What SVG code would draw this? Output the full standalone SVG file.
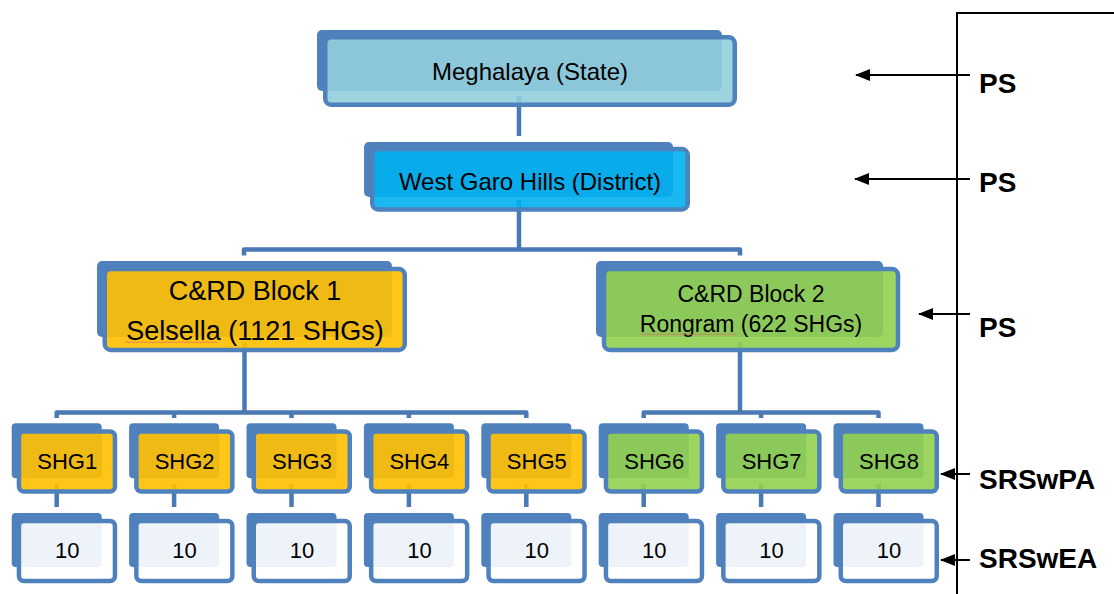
<svg xmlns="http://www.w3.org/2000/svg" width="1114" height="594" viewBox="0 0 1114 594">
<defs>
<style>
.back{fill:#4F81BD}
.front{stroke:#4F81BD;stroke-width:4.5;fill-opacity:0.9}
.sky{fill:#92CDDC}
.cyan{fill:#00B0F0}
.gold{fill:#FFC000}
.green{fill:#92D050}
.white{fill:#FFFFFF}
.t{font-family:"Liberation Sans",Arial,sans-serif;fill:#000;text-anchor:middle}
.conn{stroke:#4A79B5;stroke-width:4.5;fill:none;stroke-linejoin:round}
.lbl{font-family:"Liberation Sans",Arial,sans-serif;font-weight:bold;font-size:28px;fill:#000}
.arr{stroke:#000;stroke-width:2;fill:none}
.squig{stroke:#E06A5A;stroke-width:0.9;fill:none;opacity:0.85}
</style>
<marker id="ah" viewBox="0 0 15 12" refX="14" refY="6" markerWidth="15" markerHeight="12" markerUnits="userSpaceOnUse" orient="auto">
<path d="M0,0 L15,6 L0,12 z" fill="#000"/>
</marker>
</defs>

<g id="connectors">
<path class="conn" d="M519,96 V136"/>
<path class="conn" d="M519,200 V249.5"/>
<path class="conn" d="M244,255.5 V249.5 H740 V255.5"/>
<path class="conn" d="M244.5,342 V412.5"/>
<path class="conn" d="M56.7,418 V412.5 H526.3 V418"/>
<path class="conn" d="M174.1,412.5 V418 M291.5,412.5 V418 M408.9,412.5 V418"/>
<path class="conn" d="M740,342 V412.5"/>
<path class="conn" d="M643.7,418 V412.5 H878.5 V418"/>
<path class="conn" d="M761.1,412.5 V418"/>
<path class="conn" d="M56.7,484 V507 M174.1,484 V507 M291.5,484 V507 M408.9,484 V507 M526.3,484 V507 M643.7,484 V507 M761.1,484 V507 M878.5,484 V507"/>
</g>

<g id="n-state">
<rect class="back" x="317" y="30" width="405" height="61" rx="5"/>
<rect class="front sky" x="325.25" y="37.25" width="409.5" height="67.5" rx="6"/>
<text class="t" x="530" y="80" font-size="24">Meghalaya (State)</text>
</g>

<g id="n-district">
<rect class="back" x="364" y="142" width="309" height="55" rx="5"/>
<rect class="front cyan" x="372.25" y="149" width="315.5" height="60.5" rx="6"/>
<text class="t" x="530" y="190" font-size="24">West Garo Hills (District)</text>
</g>

<g id="n-block1">
<rect class="back" x="97" y="261" width="295" height="76" rx="5"/>
<rect class="front gold" x="104.75" y="269" width="300" height="81" rx="6"/>
<text class="t" x="255" y="300" font-size="27">C&amp;RD Block 1</text>
<text class="t" x="255" y="340" font-size="27">Selsella (1121 SHGs)</text>
<path class="squig" d="M125,343 l2,-1.5 l2,1.5 l2,-1.5 l2,1.5 l2,-1.5 l2,1.5 l2,-1.5 l2,1.5 l2,-1.5 l2,1.5 l2,-1.5 l2,1.5 l2,-1.5 l2,1.5 l2,-1.5 l2,1.5 l2,-1.5 l2,1.5 l2,-1.5 l2,1.5 l2,-1.5 l2,1.5 l2,-1.5 l2,1.5 l2,-1.5 l2,1.5 l2,-1.5 l2,1.5 l2,-1.5 l2,1.5 l2,-1.5 l2,1.5 l2,-1.5 l2,1.5 l2,-1.5 l2,1.5 l2,-1.5 l2,1.5 l2,-1.5 l2,1.5 l2,-1.5 l2,1.5 l2,-1.5 l2,1.5 l2,-1.5 l2,1.5"/>
</g>

<g id="n-block2">
<rect class="back" x="596" y="261" width="287" height="76" rx="5"/>
<rect class="front green" x="604" y="269" width="294" height="81" rx="6"/>
<text class="t" x="751" y="301.5" font-size="23">C&amp;RD Block 2</text>
<text class="t" x="751" y="332" font-size="23">Rongram (622 SHGs)</text>
<path class="squig" d="M640,335 l2,-1.5 l2,1.5 l2,-1.5 l2,1.5 l2,-1.5 l2,1.5 l2,-1.5 l2,1.5 l2,-1.5 l2,1.5 l2,-1.5 l2,1.5 l2,-1.5 l2,1.5 l2,-1.5 l2,1.5 l2,-1.5 l2,1.5 l2,-1.5 l2,1.5 l2,-1.5 l2,1.5 l2,-1.5 l2,1.5 l2,-1.5 l2,1.5 l2,-1.5 l2,1.5 l2,-1.5 l2,1.5 l2,-1.5 l2,1.5 l2,-1.5 l2,1.5 l2,-1.5 l2,1.5 l2,-1.5 l2,1.5 l2,-1.5 l2,1.5 l2,-1.5 l2,1.5 l2,-1.5 l2,1.5 l2,-1.5 l2,1.5 l2,-1.5 l2,1.5"/>
</g>

<g id="n-shg1" transform="translate(11.7 0)">
<rect class="back" x="0" y="423.3" width="90" height="55" rx="4"/>
<rect class="front gold" x="7.25" y="431.5" width="96" height="60" rx="5"/>
<text class="t" x="55.5" y="469" font-size="22">SHG1</text>
</g>
<g id="n-shg2" transform="translate(129.1 0)">
<rect class="back" x="0" y="423.3" width="90" height="55" rx="4"/>
<rect class="front gold" x="7.25" y="431.5" width="96" height="60" rx="5"/>
<text class="t" x="55.5" y="469" font-size="22">SHG2</text>
</g>
<g id="n-shg3" transform="translate(246.5 0)">
<rect class="back" x="0" y="423.3" width="90" height="55" rx="4"/>
<rect class="front gold" x="7.25" y="431.5" width="96" height="60" rx="5"/>
<text class="t" x="55.5" y="469" font-size="22">SHG3</text>
</g>
<g id="n-shg4" transform="translate(363.9 0)">
<rect class="back" x="0" y="423.3" width="90" height="55" rx="4"/>
<rect class="front gold" x="7.25" y="431.5" width="96" height="60" rx="5"/>
<text class="t" x="55.5" y="469" font-size="22">SHG4</text>
</g>
<g id="n-shg5" transform="translate(481.3 0)">
<rect class="back" x="0" y="423.3" width="90" height="55" rx="4"/>
<rect class="front gold" x="7.25" y="431.5" width="96" height="60" rx="5"/>
<text class="t" x="55.5" y="469" font-size="22">SHG5</text>
</g>
<g id="n-shg6" transform="translate(598.7 0)">
<rect class="back" x="0" y="423.3" width="90" height="55" rx="4"/>
<rect class="front green" x="7.25" y="431.5" width="96" height="60" rx="5"/>
<text class="t" x="55.5" y="469" font-size="22">SHG6</text>
</g>
<g id="n-shg7" transform="translate(716.1 0)">
<rect class="back" x="0" y="423.3" width="90" height="55" rx="4"/>
<rect class="front green" x="7.25" y="431.5" width="96" height="60" rx="5"/>
<text class="t" x="55.5" y="469" font-size="22">SHG7</text>
</g>
<g id="n-shg8" transform="translate(833.5 0)">
<rect class="back" x="0" y="423.3" width="90" height="55" rx="4"/>
<rect class="front green" x="7.25" y="431.5" width="96" height="60" rx="5"/>
<text class="t" x="55.5" y="469" font-size="22">SHG8</text>
</g>

<g id="n-ten1" transform="translate(11.7 0)">
<rect class="back" x="0" y="513" width="90" height="54" rx="4"/>
<rect class="front white" x="7.25" y="521" width="96" height="60" rx="5"/>
<text class="t" x="55.5" y="558" font-size="22">10</text>
</g>
<g id="n-ten2" transform="translate(129.1 0)">
<rect class="back" x="0" y="513" width="90" height="54" rx="4"/>
<rect class="front white" x="7.25" y="521" width="96" height="60" rx="5"/>
<text class="t" x="55.5" y="558" font-size="22">10</text>
</g>
<g id="n-ten3" transform="translate(246.5 0)">
<rect class="back" x="0" y="513" width="90" height="54" rx="4"/>
<rect class="front white" x="7.25" y="521" width="96" height="60" rx="5"/>
<text class="t" x="55.5" y="558" font-size="22">10</text>
</g>
<g id="n-ten4" transform="translate(363.9 0)">
<rect class="back" x="0" y="513" width="90" height="54" rx="4"/>
<rect class="front white" x="7.25" y="521" width="96" height="60" rx="5"/>
<text class="t" x="55.5" y="558" font-size="22">10</text>
</g>
<g id="n-ten5" transform="translate(481.3 0)">
<rect class="back" x="0" y="513" width="90" height="54" rx="4"/>
<rect class="front white" x="7.25" y="521" width="96" height="60" rx="5"/>
<text class="t" x="55.5" y="558" font-size="22">10</text>
</g>
<g id="n-ten6" transform="translate(598.7 0)">
<rect class="back" x="0" y="513" width="90" height="54" rx="4"/>
<rect class="front white" x="7.25" y="521" width="96" height="60" rx="5"/>
<text class="t" x="55.5" y="558" font-size="22">10</text>
</g>
<g id="n-ten7" transform="translate(716.1 0)">
<rect class="back" x="0" y="513" width="90" height="54" rx="4"/>
<rect class="front white" x="7.25" y="521" width="96" height="60" rx="5"/>
<text class="t" x="55.5" y="558" font-size="22">10</text>
</g>
<g id="n-ten8" transform="translate(833.5 0)">
<rect class="back" x="0" y="513" width="90" height="54" rx="4"/>
<rect class="front white" x="7.25" y="521" width="96" height="60" rx="5"/>
<text class="t" x="55.5" y="558" font-size="22">10</text>
</g>

<g id="legend">
<path d="M957,594 V13 H1114" stroke="#000" stroke-width="2" fill="none"/>
<line class="arr" x1="970" y1="75" x2="856" y2="75" marker-end="url(#ah)"/>
<line class="arr" x1="970" y1="179" x2="855" y2="179" marker-end="url(#ah)"/>
<line class="arr" x1="970" y1="314" x2="919" y2="314" marker-end="url(#ah)"/>
<line class="arr" x1="970" y1="474" x2="941" y2="474" marker-end="url(#ah)"/>
<line class="arr" x1="970" y1="560" x2="941" y2="560" marker-end="url(#ah)"/>
<text class="lbl" x="979" y="92.5">PS</text>
<text class="lbl" x="979" y="192">PS</text>
<text class="lbl" x="979" y="337">PS</text>
<text class="lbl" x="979" y="488.5">SRSwPA</text>
<text class="lbl" x="979" y="568">SRSwEA</text>
</g>
</svg>
